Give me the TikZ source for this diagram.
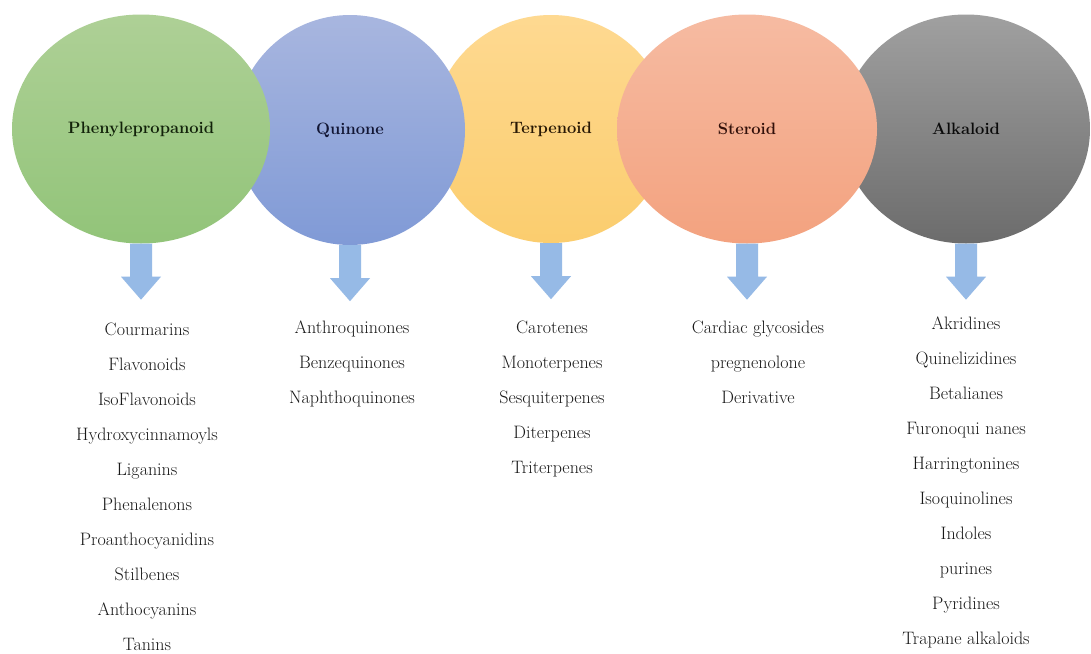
\documentclass[tikz,border=0pt]{standalone}
\usetikzlibrary{shapes.geometric}
\definecolor{grnT}{RGB}{174,208,150}
\definecolor{grnB}{RGB}{146,196,121}
\definecolor{bluT}{RGB}{168,182,223}
\definecolor{bluB}{RGB}{128,154,214}
\definecolor{yelT}{RGB}{254,217,145}
\definecolor{yelB}{RGB}{251,205,110}
\definecolor{salT}{RGB}{246,187,162}
\definecolor{salB}{RGB}{243,162,127}
\definecolor{gryT}{RGB}{160,160,160}
\definecolor{gryB}{RGB}{108,108,108}
\definecolor{arrC}{RGB}{150,186,230}
\definecolor{listC}{RGB}{25,25,25}
\definecolor{phenT}{RGB}{18,34,10}
\definecolor{quinT}{RGB}{18,22,52}
\definecolor{terpT}{RGB}{40,24,4}
\definecolor{sterT}{RGB}{50,16,10}
\definecolor{alkaT}{RGB}{10,10,10}
\tikzset{
  blob/.style={ellipse, inner sep=0pt, font=\fontsize{16.5}{19}\selectfont\bfseries},
  downarrow/.style={fill=arrC},
  listtext/.style={align=center, inner sep=0pt, anchor=north, text=listC, font=\fontsize{18}{35}\selectfont}
}
\begin{document}
\begin{tikzpicture}[x=1pt,y=-1pt]
\useasboundingbox (0,0) rectangle (1091,653);
\fill[white] (0,0) rectangle (1091,653);
% ellipses (stacking order as in the reference)
\node[blob, minimum width=236pt, minimum height=228pt, top color=yelT, bottom color=yelB, text=terpT] (terp) at (551,129) {Terpenoid};
\node[blob, minimum width=248pt, minimum height=229pt, top color=gryT, bottom color=gryB, text=alkaT] (alka) at (966,129) {Alkaloid};
\node[blob, minimum width=230pt, minimum height=230pt, top color=bluT, bottom color=bluB, text=quinT] (quin) at (350,130) {Quinone};
\node[blob, minimum width=260pt, minimum height=229pt, top color=salT, bottom color=salB, text=sterT] (ster) at (747,129) {Steroid};
\node[blob, minimum width=258pt, minimum height=229pt, top color=grnT, bottom color=grnB, text=phenT] (phen) at (141,129) {Phenylepropanoid};
% arrows
\foreach \n in {phen,quin,terp,ster,alka}
  \fill[downarrow] ([xshift=-11pt]\n.south) -- ++(22,0) -- ++(0,33) -- ++(9,0) -- ++(-20,23) -- ++(-20,-23) -- ++(9,0) -- cycle;
% lists
\node[listtext] (lphen) at (147,323) {Courmarins\\Flavonoids\\IsoFlavonoids\\Hydroxycinnamoyls\\Liganins\\Phenalenons\\Proanthocyanidins\\Stilbenes\\Anthocyanins\\Tanins};
\node[listtext] (lquin) at (352,321) {Anthroquinones\\Benzequinones\\Naphthoquinones};
\node[listtext] (lterp) at (552,321) {Carotenes\\Monoterpenes\\Sesquiterpenes\\Diterpenes\\Triterpenes};
\node[listtext] (lster) at (758,321) {Cardiac glycosides\\pregnenolone\\Derivative};
\node[listtext] (lalka) at (966,317) {Akridines\\Quinelizidines\\Betalianes\\Furonoqui nanes\\Harringtonines\\Isoquinolines\\Indoles\\purines\\Pyridines\\Trapane alkaloids};
\end{tikzpicture}
\end{document}
